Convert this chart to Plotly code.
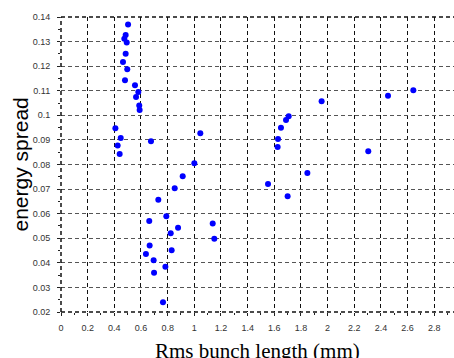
import plotly.graph_objects as go

bunch_length = [0.503, 0.485, 0.475, 0.493, 0.485, 0.465, 0.497, 0.48, 0.555, 0.58, 0.563, 0.587, 0.59,
                0.408, 0.448, 0.425, 0.44, 0.675, 1.045, 1.0, 0.913,
                0.853, 0.73, 0.79, 0.662, 1.138, 0.878, 0.823, 1.15, 0.665, 0.83, 0.637, 0.695, 0.783, 0.698, 0.765,
                2.643, 2.453, 1.955, 1.708, 1.688, 1.65, 1.628, 1.625, 2.305, 1.848, 1.553, 1.70]
energy_spread = [0.1369, 0.1327, 0.1312, 0.1296, 0.1251, 0.1217, 0.1187, 0.1143, 0.1122, 0.1095, 0.1075, 0.104, 0.1022,
                 0.0947, 0.0908, 0.0877, 0.0843, 0.0895, 0.0927, 0.0805, 0.0752,
                 0.0703, 0.0657, 0.0590, 0.0570, 0.0560, 0.0543, 0.0520, 0.0498, 0.0471, 0.0451, 0.0436, 0.0411, 0.0384, 0.0360, 0.0240,
                 0.1102, 0.1080, 0.1057, 0.0996, 0.0981, 0.0950, 0.0904, 0.0871, 0.0854, 0.0765, 0.0721, 0.0671]

x_ticks = [0, 0.2, 0.4, 0.6, 0.8, 1, 1.2, 1.4, 1.6, 1.8, 2, 2.2, 2.4, 2.6, 2.8]
x_labels = ["0", "0.2", "0.4", "0.6", "0.8", "1", "1.2", "1.4", "1.6", "1.8", "2", "2.2", "2.4", "2.6", "2.8"]
y_ticks = [0.02, 0.03, 0.04, 0.05, 0.06, 0.07, 0.08, 0.09, 0.1, 0.11, 0.12, 0.13, 0.14]
y_labels = ["0.02", "0.03", "0.04", "0.05", "0.06", "0.07", "0.08", "0.09", "0.1", "0.11", "0.12", "0.13", "0.14"]

fig = go.Figure(go.Scatter(x=bunch_length, y=energy_spread, mode="markers",
                           marker=dict(color="#0000ff", size=6, line=dict(width=0))))

common = dict(showgrid=True, griddash="4px,3px", gridwidth=1,
              zeroline=False, showline=False,
              ticks="outside", ticklen=3, tickcolor="#222222", tickwidth=1,
              tickfont=dict(family="Arial, Liberation Sans", size=9, color="#333333"))

fig.update_xaxes(range=[0, 2.948], tickmode="array", tickvals=x_ticks, ticktext=x_labels,
                 gridcolor="#111111", ticklabelstandoff=4,
                 minor=dict(ticks="outside", ticklen=2, dtick=0.1, tickcolor="#222222", showgrid=False),
                 **common)
fig.update_yaxes(range=[0.02, 0.14], tickmode="array", tickvals=y_ticks, ticktext=y_labels,
                 gridcolor="#555555", ticklabelstandoff=5,
                 minor=dict(ticks="outside", ticklen=2, dtick=0.005, tickcolor="#222222", showgrid=False),
                 **common)

border = dict(color="#111111", width=1.5, dash="4px,3px")
fig.add_shape(type="line", xref="paper", yref="paper", x0=0, x1=0, y0=0, y1=1, line=border)
fig.add_shape(type="line", xref="paper", yref="paper", x0=0, x1=1, y0=0, y1=0, line=border)
fig.add_shape(type="line", xref="paper", yref="paper", x0=0, x1=1, y0=1, y1=1, line=border)

fig.update_layout(
    width=454, height=358,
    margin=dict(l=61, r=0, t=17, b=46),
    plot_bgcolor="white", paper_bgcolor="white",
    showlegend=False,
    annotations=[
        dict(text="energy spread", x=(20 - 61) / 393, y=0.5, xref="paper", yref="paper", showarrow=False,
             textangle=-90, xanchor="center", yanchor="middle",
             font=dict(family="Arial, Liberation Sans", size=21, color="black")),
        dict(text="Rms bunch length (mm)", x=0.5, y=-0.085, xref="paper", yref="paper", showarrow=False,
             yanchor="top", font=dict(family="Times New Roman, Liberation Serif", size=21, color="black")),
    ],
)

fig.write_html("out.html")
